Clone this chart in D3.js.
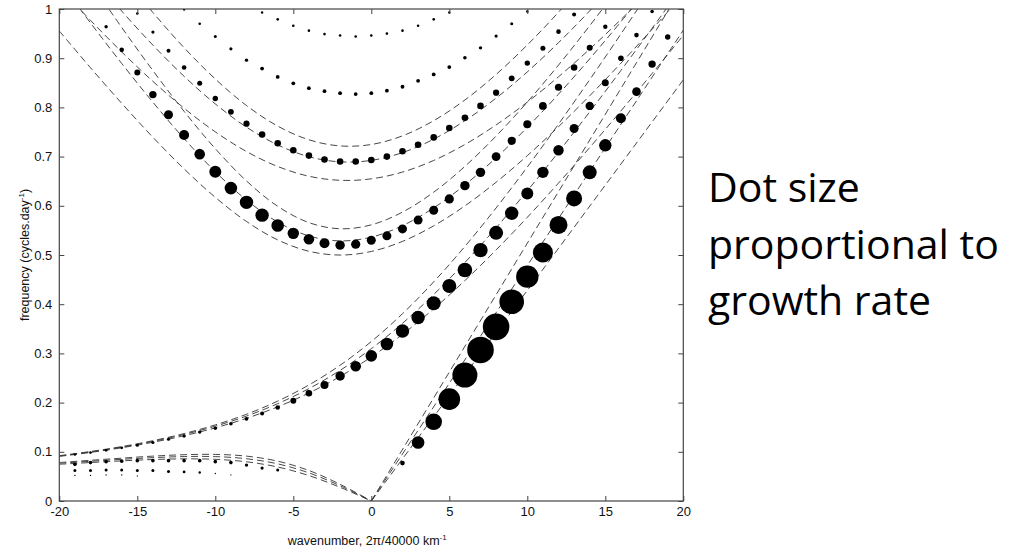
<!DOCTYPE html>
<html>
<head>
<meta charset="utf-8">
<script src="https://cdn.jsdelivr.net/npm/d3@7"></script>
<style>
  html, body { margin: 0; padding: 0; background: #fff; }
  svg { display: block; }
</style>
</head>
<body>
<svg id="chart" width="1027" height="548"></svg>
<script>
// ---- axis ticks ----
const xTickValues = [-20, -15, -10, -5, 0, 5, 10, 15, 20];
const yTickValues = [0, 0.1, 0.2, 0.3, 0.4, 0.5, 0.6, 0.7, 0.8, 0.9, 1];

// ---- theoretical dispersion curves (dashed), equivalent depths 40 / 50 / 60 m ----
const waveGrid = [-20, -18, -16, -14, -12, -10, -8, -6, -4, -2, 0, 2, 4, 6, 8, 10, 12, 14, 16, 18, 20];

// mixed Rossby-gravity
const mrg40 = [0.0906, 0.0987, 0.1082, 0.1194, 0.1327, 0.1487, 0.1680, 0.1914, 0.2195, 0.2531, 0.2928, 0.3387, 0.3906, 0.4481, 0.5103, 0.5766, 0.6462, 0.7184, 0.7928, 0.8689, 0.9464];
const mrg50 = [0.0915, 0.0998, 0.1096, 0.1212, 0.1352, 0.1521, 0.1726, 0.1978, 0.2284, 0.2655, 0.3096, 0.3611, 0.4198, 0.4848, 0.5553, 0.6305, 0.7092, 0.7909, 0.8750, 0.9609, 1.0482];
const mrg60 = [0.0921, 0.1006, 0.1106, 0.1226, 0.1371, 0.1547, 0.1763, 0.2030, 0.2358, 0.2759, 0.3241, 0.3807, 0.4454, 0.5174, 0.5956, 0.6788, 0.7660, 0.8563, 0.9492, 1.0439, null];

// n = 1 Rossby (westward only, wavenumbers -20 .. 0)
const rossby40 = [0.0746, 0.0782, 0.0816, 0.0843, 0.0857, 0.0847, 0.0797, 0.0691, 0.0517, 0.0278, 0];
const rossby50 = [0.0766, 0.0807, 0.0847, 0.0881, 0.0903, 0.0902, 0.0859, 0.0755, 0.0572, 0.0310, 0];
const rossby60 = [0.0782, 0.0827, 0.0871, 0.0912, 0.0941, 0.0947, 0.0912, 0.0810, 0.0620, 0.0339, 0];

// n = 1 inertia-gravity
const ig1_40 = [0.9554, 0.8806, 0.8083, 0.7393, 0.6750, 0.6172, 0.5681, 0.5307, 0.5076, 0.4999, 0.5072, 0.5277, 0.5593, 0.5999, 0.6479, 0.7019, 0.7608, 0.8237, 0.8899, 0.9588, 1.0300];
const ig1_50 = [1.0565, 0.9717, 0.8894, 0.8105, 0.7365, 0.6693, 0.6116, 0.5670, 0.5387, 0.5286, 0.5363, 0.5596, 0.5958, 0.6425, 0.6976, 0.7595, 0.8269, 0.8987, 0.9741, 1.0524, null];
const ig1_60 = [null, 1.0540, 0.9626, 0.8748, 0.7919, 0.7161, 0.6505, 0.5990, 0.5658, 0.5533, 0.5613, 0.5872, 0.6277, 0.6801, 0.7418, 0.8109, 0.8860, 0.9660, 1.0497, null, null];

// n = 2 inertia-gravity
const ig2_40 = [1.0444, 0.9769, 0.9128, 0.8529, 0.7983, 0.7503, 0.7103, 0.6799, 0.6601, 0.6518, 0.6548, 0.6686, 0.6922, 0.7246, 0.7644, 0.8106, 0.8622, 0.9184, 0.9785, 1.0418, null];
const ig2_50 = [null, 1.0694, 0.9958, 0.9266, 0.8632, 0.8071, 0.7599, 0.7237, 0.6998, 0.6893, 0.6923, 0.7081, 0.7354, 0.7729, 0.8189, 0.8722, 0.9316, 0.9962, 1.0649, null, null];
const ig2_60 = [null, null, 1.0705, 0.9929, 0.9213, 0.8577, 0.8038, 0.7620, 0.7342, 0.7217, 0.7246, 0.7422, 0.7730, 0.8151, 0.8670, 0.9269, 0.9935, 1.0657, null, null, null];

// Kelvin: straight lines from the origin, frequency at wavenumber 20
const kelvinAt20 = [0.856, 0.957, 1.048];

// ---- computed modes (dots): wavenumber, frequency, growth rate (day^-1) ----
const kelvinS = [2, 3, 4, 5, 6, 7, 8, 9, 10, 11, 12, 13, 14, 15, 16, 17, 18, 19];
const kelvinFreq = [0.077, 0.119, 0.161, 0.207, 0.256, 0.307, 0.354, 0.405, 0.456, 0.505, 0.561, 0.615, 0.668, 0.723, 0.778, 0.832, 0.888, 0.943];
const kelvinGrowth = [0.046, 0.126, 0.166, 0.216, 0.250, 0.266, 0.266, 0.246, 0.224, 0.200, 0.180, 0.160, 0.140, 0.124, 0.100, 0.086, 0.074, 0.054];

const mrgS = [-19, -18, -17, -16, -15, -14, -13, -12, -11, -10, -9, -8, -7, -6, -5, -4, -3, -2, -1, 0, 1, 2, 3, 4, 5, 6, 7, 8, 9, 10, 11, 12, 13, 14, 15, 16, 17, 18];
const mrgFreq = [0.0945, 0.0985, 0.103, 0.108, 0.1135, 0.119, 0.1255, 0.132, 0.140, 0.148, 0.157, 0.167, 0.178, 0.190, 0.204, 0.219, 0.236, 0.254, 0.274, 0.295, 0.319, 0.3455, 0.373, 0.402, 0.437, 0.4695, 0.510, 0.545, 0.585, 0.625, 0.668, 0.713, 0.757, 0.803, 0.850, 0.900, 0.947, 0.995];
const mrgGrowth = [0.026, 0.027, 0.028, 0.029, 0.030, 0.031, 0.032, 0.033, 0.034, 0.035, 0.036, 0.038, 0.040, 0.046, 0.060, 0.066, 0.080, 0.094, 0.106, 0.116, 0.126, 0.134, 0.134, 0.140, 0.140, 0.146, 0.144, 0.140, 0.134, 0.120, 0.114, 0.104, 0.090, 0.084, 0.070, 0.056, 0.046, 0.036];

const ig1S = [-17, -16, -15, -14, -13, -12, -11, -10, -9, -8, -7, -6, -5, -4, -3, -2, -1, 0, 1, 2, 3, 4, 5, 6, 7, 8, 9, 10, 11, 12, 13, 14, 15];
const ig1Freq = [0.964, 0.917, 0.871, 0.826, 0.785, 0.744, 0.705, 0.669, 0.636, 0.607, 0.581, 0.560, 0.544, 0.532, 0.524, 0.520, 0.522, 0.530, 0.539, 0.553, 0.571, 0.591, 0.614, 0.641, 0.668, 0.700, 0.732, 0.766, 0.803, 0.841, 0.881, 0.921, 0.964];
const ig1Growth = [0.034, 0.046, 0.060, 0.074, 0.090, 0.100, 0.106, 0.120, 0.126, 0.134, 0.134, 0.126, 0.114, 0.106, 0.100, 0.094, 0.092, 0.090, 0.090, 0.090, 0.090, 0.090, 0.092, 0.094, 0.094, 0.088, 0.082, 0.080, 0.078, 0.072, 0.066, 0.060, 0.044];

const ig2S = [-15, -14, -13, -12, -11, -10, -9, -8, -7, -6, -5, -4, -3, -2, -1, 0, 1, 2, 3, 4, 5, 6, 7, 8, 9, 10, 11, 12, 13];
const ig2Freq = [0.991, 0.953, 0.915, 0.881, 0.849, 0.818, 0.791, 0.767, 0.745, 0.727, 0.713, 0.702, 0.694, 0.690, 0.690, 0.693, 0.700, 0.711, 0.724, 0.739, 0.758, 0.779, 0.803, 0.830, 0.859, 0.890, 0.920, 0.954, 0.989];
const ig2Growth = [0.026, 0.032, 0.040, 0.046, 0.050, 0.054, 0.058, 0.062, 0.066, 0.066, 0.066, 0.066, 0.066, 0.066, 0.066, 0.066, 0.066, 0.066, 0.066, 0.066, 0.066, 0.066, 0.066, 0.062, 0.058, 0.054, 0.050, 0.046, 0.040];

const ig3S = [-12, -11, -10, -9, -8, -7, -6, -5, -4, -3, -2, -1, 0, 1, 2, 3, 4, 5, 6, 7, 8, 9, 10];
const ig3Freq = [0.999, 0.970, 0.944, 0.919, 0.896, 0.879, 0.862, 0.849, 0.839, 0.833, 0.829, 0.827, 0.829, 0.834, 0.842, 0.854, 0.867, 0.882, 0.901, 0.921, 0.945, 0.970, 0.995];
const ig3Growth = [0.024, 0.026, 0.030, 0.032, 0.034, 0.038, 0.038, 0.038, 0.038, 0.038, 0.038, 0.038, 0.038, 0.038, 0.038, 0.038, 0.038, 0.038, 0.036, 0.034, 0.032, 0.030, 0.026];

const ig4S = [-7, -6, -5, -4, -3, -2, -1, 0, 1, 2, 3, 4, 5];
const ig4Freq = [0.993, 0.979, 0.966, 0.956, 0.949, 0.946, 0.944, 0.946, 0.950, 0.956, 0.966, 0.979, 0.993];
const ig4Growth = [0.024, 0.026, 0.026, 0.026, 0.026, 0.026, 0.026, 0.026, 0.026, 0.026, 0.026, 0.026, 0.024];

const rossbyAS = [-19, -18, -17, -16, -15, -14, -13, -12, -11, -10, -9, -8, -7, -6];
const rossbyAFreq = [0.0745, 0.078, 0.080, 0.081, 0.082, 0.082, 0.082, 0.082, 0.082, 0.080, 0.078, 0.073, 0.067, 0.063];
const rossbyAGrowth = [0.036, 0.036, 0.036, 0.036, 0.036, 0.036, 0.036, 0.036, 0.036, 0.036, 0.036, 0.034, 0.032, 0.030];

const rossbyBS = [-19, -18, -17, -16, -15, -14, -13, -12, -11, -10, -9];
const rossbyBFreq = [0.062, 0.062, 0.063, 0.063, 0.062, 0.062, 0.060, 0.059, 0.058, 0.056, 0.053];
const rossbyBGrowth = [0.030, 0.030, 0.030, 0.030, 0.030, 0.030, 0.030, 0.028, 0.024, 0.014, 0.012];

const rossbyCS = [-19, -18, -17, -16, -15];
const rossbyCFreq = [0.052, 0.052, 0.053, 0.053, 0.051];
const rossbyCGrowth = [0.014, 0.014, 0.014, 0.014, 0.012];

const noteLines = ["Dot size", "proportional to", "growth rate"];

// ---- drawing ----
const svg = d3.select("#chart");
svg.append("rect").attr("width", 1027).attr("height", 548).attr("fill", "#fff");

const plot = { left: 59.3, right: 683.3, top: 9, bottom: 501 };
const x = d3.scaleLinear().domain([-20, 20]).range([plot.left, plot.right]);
const y = d3.scaleLinear().domain([0, 1]).range([plot.bottom, plot.top]);
const r = d3.scaleLinear().domain([0, 0.27]).range([0, 13.5]);

svg.append("clipPath").attr("id", "plotClip")
  .append("rect")
  .attr("x", plot.left).attr("y", plot.top)
  .attr("width", plot.right - plot.left).attr("height", plot.bottom - plot.top);

const body = svg.append("g").attr("clip-path", "url(#plotClip)");

const line = d3.line()
  .defined(d => d[1] != null)
  .x(d => x(d[0])).y(d => y(d[1]))
  .curve(d3.curveCatmullRom.alpha(0.5));

const onGrid = vals => vals.map((v, i) => [waveGrid[i], v]);
const dashedCurves = [
  onGrid(mrg40), onGrid(mrg50), onGrid(mrg60),
  rossby40.map((v, i) => [waveGrid[i], v]),
  rossby50.map((v, i) => [waveGrid[i], v]),
  rossby60.map((v, i) => [waveGrid[i], v]),
  onGrid(ig1_40), onGrid(ig1_50), onGrid(ig1_60),
  onGrid(ig2_40), onGrid(ig2_50), onGrid(ig2_60),
  ...kelvinAt20.map(v => [[0, 0], [20, v]])
];

body.selectAll("path.theory")
  .data(dashedCurves)
  .join("path")
  .attr("class", "theory")
  .attr("d", line)
  .attr("fill", "none")
  .attr("stroke", "#333")
  .attr("stroke-width", 0.9)
  .attr("stroke-dasharray", "7,4");

const modes = [
  [rossbyCS, rossbyCFreq, rossbyCGrowth],
  [rossbyBS, rossbyBFreq, rossbyBGrowth],
  [rossbyAS, rossbyAFreq, rossbyAGrowth],
  [ig4S, ig4Freq, ig4Growth],
  [ig3S, ig3Freq, ig3Growth],
  [ig2S, ig2Freq, ig2Growth],
  [ig1S, ig1Freq, ig1Growth],
  [mrgS, mrgFreq, mrgGrowth],
  [kelvinS, kelvinFreq, kelvinGrowth]
];
const dots = modes.flatMap(([s, f, g]) => s.map((sv, i) => ({ s: sv, f: f[i], g: g[i] })));

body.selectAll("circle.mode")
  .data(dots)
  .join("circle")
  .attr("class", "mode")
  .attr("cx", d => x(d.s))
  .attr("cy", d => y(d.f))
  .attr("r", d => r(d.g))
  .attr("fill", "#000");

// axes: ticks point inward on all four sides
const axisFont = "'Liberation Sans', Arial, Helvetica, sans-serif";
const fmtY = d => d3.format("~g")(d);
const fmtX = d => String(d);

const gLeft = svg.append("g").attr("transform", `translate(${plot.left},0)`)
  .call(d3.axisLeft(y).tickValues(yTickValues).tickFormat(fmtY).tickSize(-5).tickPadding(7));
const gBottom = svg.append("g").attr("transform", `translate(0,${plot.bottom})`)
  .call(d3.axisBottom(x).tickValues(xTickValues).tickFormat(fmtX).tickSize(-5).tickPadding(6));
const gRight = svg.append("g").attr("transform", `translate(${plot.right},0)`)
  .call(d3.axisRight(y).tickValues(yTickValues).tickFormat("").tickSize(-5));
const gTop = svg.append("g").attr("transform", `translate(0,${plot.top})`)
  .call(d3.axisTop(x).tickValues(xTickValues).tickFormat("").tickSize(-5));

[gLeft, gBottom, gRight, gTop].forEach(g => {
  g.select(".domain").remove();
  g.selectAll("line").attr("stroke", "#444").attr("stroke-width", 1);
  g.selectAll("text").attr("fill", "#111").style("font-family", axisFont).style("font-size", "13px");
});

svg.append("rect")
  .attr("x", plot.left).attr("y", plot.top)
  .attr("width", plot.right - plot.left).attr("height", plot.bottom - plot.top)
  .attr("fill", "none").attr("stroke", "#444").attr("stroke-width", 1.2);

// axis titles
const xTitle = svg.append("text")
  .attr("x", (plot.left + plot.right) / 2 - 4).attr("y", 545)
  .attr("text-anchor", "middle")
  .style("font-family", axisFont).style("font-size", "12.5px").attr("fill", "#111");
xTitle.append("tspan").text("wavenumber, 2\u03c0/40000 km");
xTitle.append("tspan").attr("dy", -5).style("font-size", "8px").text("-1");

const yTitle = svg.append("text")
  .attr("transform", `translate(29,${(plot.top + plot.bottom) / 2}) rotate(-90)`)
  .attr("text-anchor", "middle")
  .style("font-family", axisFont).style("font-size", "12.5px").attr("fill", "#111");
yTitle.append("tspan").text("frequency (cycles.day");
yTitle.append("tspan").attr("dy", -5).style("font-size", "8px").text("-1");
yTitle.append("tspan").attr("dy", 5).text(")");

// side note
svg.append("g").selectAll("text")
  .data(noteLines)
  .join("text")
  .attr("x", 708)
  .attr("y", (d, i) => 202 + i * 56.5)
  .style("font-family", "'Open Sans', sans-serif")
  .style("font-size", "41px")
  .attr("fill", "#000")
  .text(d => d);
</script>
</body>
</html>
